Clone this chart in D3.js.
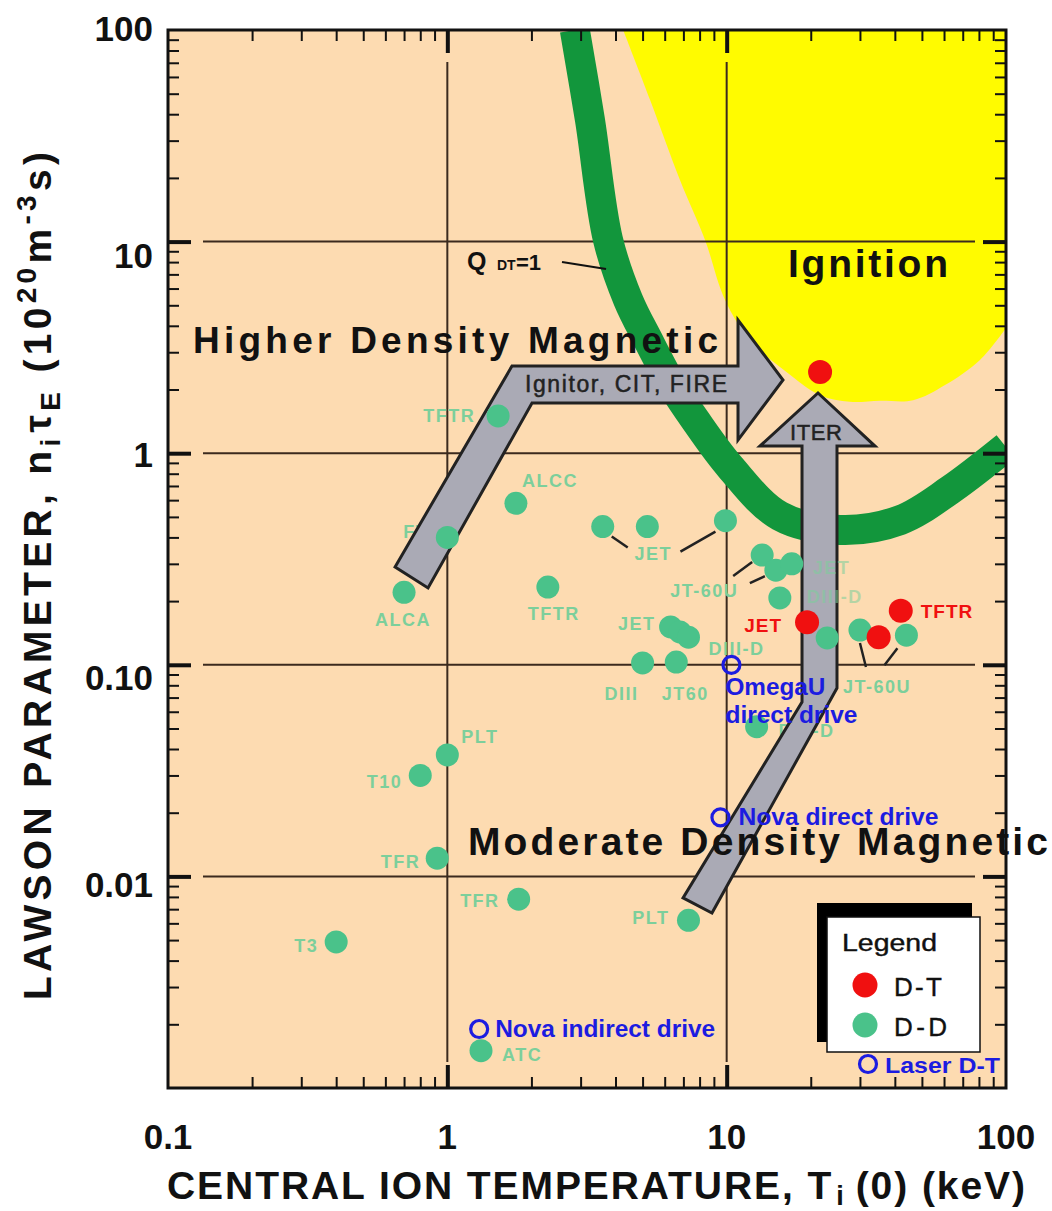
<!DOCTYPE html>
<html>
<head>
<meta charset="utf-8">
<script src="https://cdn.jsdelivr.net/npm/d3@7"></script>
<style>
  body { margin: 0; background: #ffffff; }
  svg { display: block; font-family: "Liberation Sans", Arial, Helvetica, sans-serif; }
</style>
</head>
<body>
<svg id="chart" width="1052" height="1211"></svg>
<script>
// ---------------- data ----------------
const xTicks = [0.1, 1, 10, 100];
const xTickLabels = ["0.1", "1", "10", "100"];
const yTicks = [100, 10, 1, 0.1, 0.01];
const yTickLabels = ["100", "10", "1", "0.10", "0.01"];

// Q_DT = 1 contour (T in keV, n_i tau_E in 1e20 m^-3 s)
const qdtT = [2.86, 3.24, 3.76, 4.44, 5.23, 6.4, 7.7, 10.3, 15.5, 25.5, 41.8, 63.0, 100];
const qdtN = [100, 37.6, 10.2, 5.3, 3.43, 2.08, 1.44, 0.86, 0.505, 0.434, 0.483, 0.67, 1.07];

// ignition boundary
const ignT = [4.26, 5.32, 6.81, 8.36, 9.87, 12.1, 16.9, 21.6, 27.6, 35.4, 46.5, 60.5, 80.7, 100];
const ignN = [100, 46.7, 19.5, 10.2, 5.3, 3.43, 2.34, 1.88, 1.75, 1.77, 1.78, 2.10, 2.76, 3.91];

// D-D experiments
const ddNames = ["TFTR", "ALCC", "FT", "ALCA", "TFTR", "JET", "JET", "JET", "JT-60U", "JT-60U",
                 "JET", "DIII-D", "JET", "JET", "DIII-D", "DIII", "JT60", "DIII-D", "JT-60U", "JT-60U",
                 "DIII-D", "PLT", "T10", "TFR", "TFR", "PLT", "T3", "ATC"];
const ddT = [1.52, 1.76, 1.00, 0.70, 2.29, 3.6, 5.2, 9.9, 13.4, 15.0,
             17.1, 15.5, 6.3, 6.8, 7.3, 5.0, 6.6, 22.9, 30, 44,
             12.8, 1.0, 0.80, 0.92, 1.8, 7.3, 0.40, 1.32];
const ddN = [1.50, 0.58, 0.40, 0.22, 0.233, 0.45, 0.45, 0.48, 0.33, 0.28,
             0.30, 0.207, 0.151, 0.143, 0.135, 0.102, 0.103, 0.134, 0.146, 0.138,
             0.051, 0.0375, 0.030, 0.0122, 0.0078, 0.0062, 0.0049, 0.0015];

// D-T results and the ignition target
const dtNames = ["ITER", "JET", "TFTR", "TFTR"];
const dtT = [21.6, 19.4, 35, 42];
const dtN = [2.42, 0.159, 0.135, 0.18];

// laser D-T shots
const laserNames = ["OmegaU direct drive", "Nova direct drive", "Nova indirect drive"];
const laserT = [10.4, 9.5, 1.3];
const laserN = [0.10, 0.019, 0.0019];

// paths of development (vertices in T, n tau)
const highArrowT = [0.650, 1.704, 10.98, 10.98, 15.91, 10.98, 10.98, 2.010, 0.853];
const highArrowN = [0.290, 2.583, 2.583, 4.26, 2.218, 1.154, 1.727, 1.727, 0.2307];
const iterArrowT = [21.23, 33.96, 24.83, 24.83, 8.86, 6.98, 18.61, 18.61, 13.16];
const iterArrowN = [1.925, 1.081, 1.081, 0.0777, 0.00671, 0.00791, 0.0667, 1.081, 1.081];

// ---------------- layout ----------------
const svg = d3.select("#chart");
const x = d3.scaleLog().domain([0.1, 100]).range([168, 1006]);
const y = d3.scaleLog().domain([0.001, 100]).range([1088, 30]);
const X0 = 168, X1 = 1006, Y0 = 30, Y1 = 1088;

const PEACH = "#fddbb1", YELLOW = "#fffb00", BAND = "#12963c", GRID = "#3b2a1e";
const DD = "#4ac28a", DDTXT = "#7ccf9b", DT = "#f01010", BLUE = "#1c1ce0", ARROW = "#aaaab5";

svg.append("defs").append("clipPath").attr("id", "plotclip")
  .append("rect").attr("x", X0).attr("y", Y0).attr("width", X1 - X0).attr("height", Y1 - Y0);

svg.append("rect").attr("x", X0).attr("y", Y0).attr("width", X1 - X0).attr("height", Y1 - Y0)
  .attr("fill", PEACH);

const plot = svg.append("g").attr("clip-path", "url(#plotclip)");

// ignition region
const curve = d3.line().x(d => x(d[0])).y(d => y(d[1])).curve(d3.curveCatmullRom.alpha(0.5));
const ignPts = ignT.map((t, i) => [t, ignN[i]]);
plot.append("path")
  .attr("d", curve(ignPts) + `L${x(100) + 5},${y(100) - 5}Z`)
  .attr("fill", YELLOW);

// decade grid lines with gaps next to the frame
const majX = [1, 10], majY = [10, 1, 0.1, 0.01];
plot.selectAll(".gx").data(majX).join("line")
  .attr("x1", d => x(d)).attr("x2", d => x(d))
  .attr("y1", Y0 + 32).attr("y2", Y1 - 26)
  .attr("stroke", GRID).attr("stroke-width", 2);
plot.selectAll(".gy").data(majY).join("line")
  .attr("y1", d => y(d)).attr("y2", d => y(d))
  .attr("x1", X0 + 35).attr("x2", X1 - 31)
  .attr("stroke", GRID).attr("stroke-width", 2);

// Q_DT = 1 band
const qPts = qdtT.map((t, i) => [t, qdtN[i]]);
plot.append("path").attr("d", curve(qPts))
  .attr("fill", "none").attr("stroke", BAND).attr("stroke-width", 30);

// ticks (inward on all four sides)
const minors = [];
for (const dec of [0.001, 0.01, 0.1, 1, 10]) for (let k = 2; k <= 9; k++) minors.push(+(dec * k).toPrecision(3));
const minX = minors.filter(v => v > 0.1 && v < 100);
const minY = minors.filter(v => v > 0.001 && v < 100);
const tickG = svg.append("g");
function ticks(axisFn, scale, vals, size, width, tr) {
  const g = tickG.append("g").attr("transform", tr)
    .call(axisFn(scale).tickValues(vals).tickSizeInner(-size).tickSizeOuter(0).tickFormat(""));
  g.select(".domain").remove();
  g.selectAll("line").attr("stroke", "#111").attr("stroke-width", width);
}
ticks(d3.axisLeft, y, minY, 11, 2, `translate(${X0},0)`);
ticks(d3.axisRight, y, minY, 11, 2, `translate(${X1},0)`);
ticks(d3.axisTop, x, minX, 11, 2, `translate(0,${Y0})`);
ticks(d3.axisBottom, x, minX, 11, 2, `translate(0,${Y1})`);
ticks(d3.axisLeft, y, majY, 23, 4, `translate(${X0},0)`);
ticks(d3.axisRight, y, majY, 23, 4, `translate(${X1},0)`);
ticks(d3.axisTop, x, majX, 23, 4, `translate(0,${Y0})`);
ticks(d3.axisBottom, x, majX, 23, 4, `translate(0,${Y1})`);

// frame
svg.append("rect").attr("x", X0).attr("y", Y0).attr("width", X1 - X0).attr("height", Y1 - Y0)
  .attr("fill", "none").attr("stroke", "#111").attr("stroke-width", 3);

// tick labels
svg.selectAll(".xl").data(xTicks).join("text")
  .attr("x", d => x(d)).attr("y", 1149).attr("text-anchor", "middle")
  .attr("font-size", 35).attr("font-weight", "bold").attr("fill", "#111")
  .text((d, i) => xTickLabels[i]);
const yLabelShift = [11, 26, 14, 25, 21];
svg.selectAll(".yl").data(yTicks).join("text")
  .attr("x", 153).attr("y", (d, i) => y(d) + yLabelShift[i]).attr("text-anchor", "end")
  .attr("font-size", 35).attr("font-weight", "bold").attr("fill", "#111")
  .text((d, i) => yTickLabels[i]);

// axis titles
const xt = svg.append("text").attr("x", 167).attr("y", 1199)
  .attr("font-size", 39).attr("font-weight", "bold").attr("fill", "#111")
  .attr("textLength", 858).attr("lengthAdjust", "spacing");
xt.append("tspan").text("CENTRAL ION TEMPERATURE, T");
xt.append("tspan").attr("font-size", 27).attr("dy", 6).attr("dx", 3).text("i");
xt.append("tspan").attr("dy", -6).attr("dx", 10).text("(0) (keV)");

const yt = svg.append("text").attr("transform", "translate(51,1000) rotate(-90)")
  .attr("font-size", 39).attr("font-weight", "bold").attr("fill", "#111")
  .attr("textLength", 848).attr("lengthAdjust", "spacing");
yt.append("tspan").text("LAWSON PARAMETER, n");
yt.append("tspan").attr("font-size", 28).attr("dy", 9).text("i");
yt.append("tspan").attr("dy", -9).attr("dx", 2).text("\u03c4");
yt.append("tspan").attr("font-size", 28).attr("dy", 9).text("E");
yt.append("tspan").attr("dy", -9).text(" (10");
yt.append("tspan").attr("font-size", 28).attr("dy", -15).text("20");
yt.append("tspan").attr("dy", 15).text("m");
yt.append("tspan").attr("font-size", 28).attr("dy", -15).text("-3");
yt.append("tspan").attr("dy", 15).text("s)");

// Q_DT = 1 label with pointer
const qLab = svg.append("text").attr("x", 467).attr("y", 270).attr("fill", "#111");
qLab.append("tspan").attr("font-size", 25).attr("font-weight", "bold").text("Q");
qLab.append("tspan").attr("x", 497).attr("font-size", 14).attr("font-weight", "bold").text("DT");
qLab.append("tspan").attr("x", 516).attr("font-size", 22).attr("font-weight", "bold").text("=1");
svg.append("line").attr("x1", 562).attr("y1", 262).attr("x2", x(3.7)).attr("y2", 269)
  .attr("stroke", "#111").attr("stroke-width", 2);

// point labels (placed relative to their point, pixel offsets)
const series = {
  dd: ddT.map((t, i) => [x(t), y(ddN[i])]),
  dt: dtT.map((t, i) => [x(t), y(dtN[i])]),
  laser: laserT.map((t, i) => [x(t), y(laserN[i])])
};
const greenLabels = [
  ["TFTR", 0, -23, 6, "end"], ["ALCC", 1, 6, -16, "start"], ["FT", 2, -44, 1, "start"],
  ["ALCA", 3, -1, 34, "middle"], ["TFTR", 4, 6, 33, "middle"], ["JET", 6, 6, 33, "middle"],
  ["JT-60U", 8, -92, 42, "start"],
  ["JET", 12, -15, 3, "end"], ["DIII-D", 14, 20, 18, "start"], ["DIII", 15, -21, 37, "middle"],
  ["JT60", 16, 9, 38, "middle"], ["JT-60U", 18, -17, 63, "start"], ["DIII-D", 20, 22, 10, "start"],
  ["PLT", 21, 14, -12, "start"], ["T10", 22, -18, 13, "end"], ["TFR", 23, -17, 10, "end"],
  ["TFR", 24, -19, 8, "end"], ["PLT", 25, -19, 4, "end"], ["T3", 26, -18, 10, "end"],
  ["ATC", 27, 21, 10, "start"]
];
// labels that sit over the ITER arrow, shown faintly
const overLabels = [["JET", 10, 21, 10, "start"], ["DIII-D", 11, 27, 5, "start"]];
// leader lines: [point index, dx1, dy1, dx2, dy2]
const leaders = [
  [5, 9, 10, 25, 21], [7, -10, 11, -45, 31], [8, -10, 7, -29, 21], [9, -11, 6, -26, 13],
  [18, 0, 13, 6, 37], [19, -9, 13, -22, 30]
];
const labG = svg.append("g").attr("font-weight", "bold").attr("font-size", 18)
  .attr("letter-spacing", 1.5);
labG.selectAll("text").data(greenLabels).join("text")
  .attr("x", d => series.dd[d[1]][0] + d[2]).attr("y", d => series.dd[d[1]][1] + d[3])
  .attr("text-anchor", d => d[4]).attr("fill", DDTXT).text(d => d[0]);
svg.append("g").selectAll("line").data(leaders).join("line")
  .attr("x1", d => series.dd[d[0]][0] + d[1]).attr("y1", d => series.dd[d[0]][1] + d[2])
  .attr("x2", d => series.dd[d[0]][0] + d[3]).attr("y2", d => series.dd[d[0]][1] + d[4])
  .attr("stroke", "#222").attr("stroke-width", 2.5);

// development arrows
const arrowLine = d3.line().x(d => x(d[0])).y(d => y(d[1]));
function arrow(ts, ns) {
  svg.append("path").attr("d", arrowLine(ts.map((t, i) => [t, ns[i]])) + "Z")
    .attr("fill", ARROW).attr("stroke", "#222").attr("stroke-width", 3).attr("stroke-linejoin", "miter");
}
arrow(highArrowT, highArrowN);
arrow(iterArrowT, iterArrowN);
svg.append("text").attr("x", 525).attr("y", 392).attr("font-size", 23).attr("fill", "#222")
  .attr("stroke", "#222").attr("stroke-width", 0.5)
  .attr("textLength", 202).attr("lengthAdjust", "spacing").text("Ignitor, CIT, FIRE");
svg.append("text").attr("x", 790).attr("y", 440).attr("font-size", 22).attr("fill", "#222")
  .attr("stroke", "#222").attr("stroke-width", 0.5)
  .attr("textLength", 52).attr("lengthAdjust", "spacing").text("ITER");

svg.append("g").attr("font-weight", "bold").attr("font-size", 18).attr("letter-spacing", 1.5)
  .attr("opacity", 0.55)
  .selectAll("text").data(overLabels).join("text")
  .attr("x", d => series.dd[d[1]][0] + d[2]).attr("y", d => series.dd[d[1]][1] + d[3])
  .attr("text-anchor", d => d[4]).attr("fill", DDTXT).text(d => d[0]);

// D-D points
svg.append("g").selectAll("circle").data(series.dd).join("circle")
  .attr("cx", d => d[0]).attr("cy", d => d[1]).attr("r", 11.5).attr("fill", DD);

// D-T points
svg.append("g").selectAll("circle").data(series.dt).join("circle")
  .attr("cx", d => d[0]).attr("cy", d => d[1]).attr("r", 12).attr("fill", DT);
const redLabels = [["JET", 1, -25, 10, "end"], ["TFTR", 3, 20, 7, "start"]];
svg.append("g").attr("font-weight", "bold").attr("font-size", 19).attr("letter-spacing", 1)
  .selectAll("text").data(redLabels).join("text")
  .attr("x", d => series.dt[d[1]][0] + d[2]).attr("y", d => series.dt[d[1]][1] + d[3])
  .attr("text-anchor", d => d[4]).attr("fill", DT).text(d => d[0]);

// laser shots
svg.append("g").selectAll("circle").data(series.laser).join("circle")
  .attr("cx", d => d[0]).attr("cy", d => d[1]).attr("r", 8.5)
  .attr("fill", "none").attr("stroke", BLUE).attr("stroke-width", 3.2);
const blueLabels = [
  ["OmegaU", 0, -6, 30, 100], ["direct drive", 0, -6, 58, 132],
  ["Nova direct drive", 1, 18, 8, 200], ["Nova indirect drive", 2, 16, 8, 220]
];
svg.append("g").attr("font-weight", "bold").attr("font-size", 23)
  .selectAll("text").data(blueLabels).join("text")
  .attr("x", d => series.laser[d[1]][0] + d[2]).attr("y", d => series.laser[d[1]][1] + d[3])
  .attr("textLength", d => d[4]).attr("lengthAdjust", "spacingAndGlyphs")
  .attr("fill", BLUE).text(d => d[0]);

// region captions
function caption(txt, xx, yy, size, len) {
  svg.append("text").attr("x", xx).attr("y", yy).attr("font-size", size).attr("font-weight", "bold")
    .attr("fill", "#111").attr("textLength", len).attr("lengthAdjust", "spacing").text(txt);
}
caption("Ignition", 788, 277, 39, 160);
caption("Higher Density Magnetic", 193, 353, 37, 525);
caption("Moderate Density Magnetic", 468, 855, 39, 580);

// legend
const lg = svg.append("g");
lg.append("rect").attr("x", 817).attr("y", 903).attr("width", 155).attr("height", 139).attr("fill", "#000");
lg.append("rect").attr("x", 827).attr("y", 917).attr("width", 153).attr("height", 135)
  .attr("fill", "#fff").attr("stroke", "#111").attr("stroke-width", 1.5);
lg.append("text").attr("x", 842).attr("y", 951).attr("font-size", 23).attr("fill", "#111")
  .attr("stroke", "#111").attr("stroke-width", 0.4)
  .attr("textLength", 95).attr("lengthAdjust", "spacingAndGlyphs").text("Legend");
lg.append("circle").attr("cx", 865).attr("cy", 985).attr("r", 12.5).attr("fill", DT);
lg.append("circle").attr("cx", 865).attr("cy", 1025).attr("r", 12.5).attr("fill", DD);
lg.append("text").attr("x", 894).attr("y", 996).attr("font-size", 26).attr("fill", "#111")
  .attr("stroke", "#111").attr("stroke-width", 0.4)
  .attr("textLength", 48).attr("lengthAdjust", "spacing").text("D-T");
lg.append("text").attr("x", 894).attr("y", 1036).attr("font-size", 26).attr("fill", "#111")
  .attr("stroke", "#111").attr("stroke-width", 0.4)
  .attr("textLength", 53).attr("lengthAdjust", "spacing").text("D-D");
lg.append("circle").attr("cx", 868).attr("cy", 1064).attr("r", 8.5)
  .attr("fill", "none").attr("stroke", BLUE).attr("stroke-width", 3.2);
lg.append("text").attr("x", 885).attr("y", 1073).attr("font-size", 22).attr("font-weight", "bold")
  .attr("fill", BLUE).attr("textLength", 115).attr("lengthAdjust", "spacingAndGlyphs").text("Laser D-T");
</script>
</body>
</html>
